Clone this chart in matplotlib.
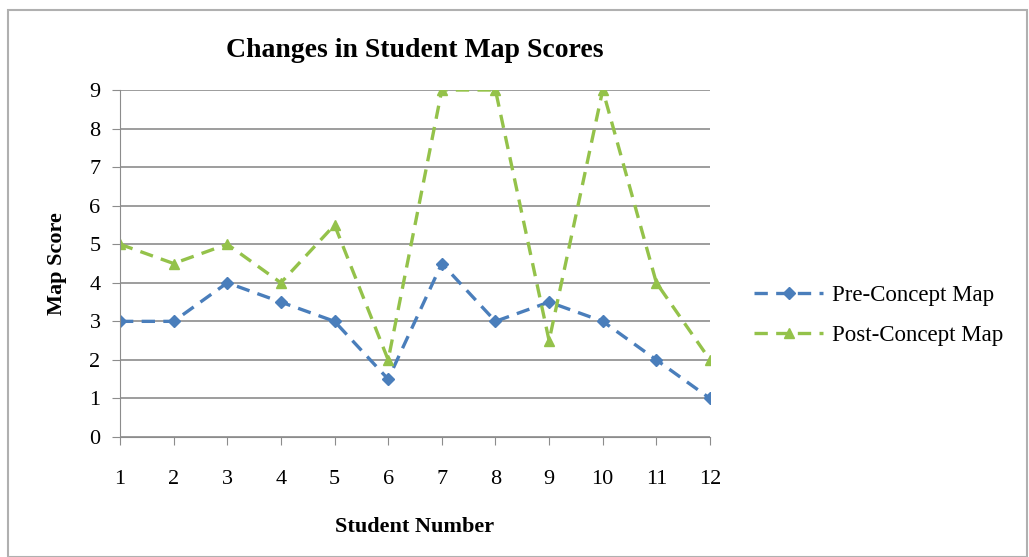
import matplotlib.pyplot as plt
from matplotlib.patches import Rectangle

students = list(range(1, 13))
pre_scores = [3, 3, 4, 3.5, 3, 1.5, 4.5, 3, 3.5, 3, 2, 1]
post_scores = [5, 4.5, 5, 4, 5.5, 2, 9, 9, 2.5, 9, 4, 2]

plt.rcParams['font.family'] = ['Liberation Serif', 'DejaVu Serif']

fig = plt.figure(figsize=(10.29, 5.57), dpi=100)
fig.patches.append(Rectangle((0.008, 0.0), 0.99, 0.982, transform=fig.transFigure,
                             fill=False, edgecolor='#b0b0b0', linewidth=1.5))
ax = fig.add_axes([0.1166, 0.2154, 0.5734, 0.623])

ax.plot(students, pre_scores, linestyle='--', color='#4a7ebb', linewidth=2.4,
        marker='D', markersize=6, label='Pre-Concept Map', dashes=(4, 2.5))
ax.plot(students, post_scores, linestyle='--', color='#94c24a', linewidth=2.4,
        marker='^', markersize=7, label='Post-Concept Map', dashes=(4, 2.5))

ax.set_xlim(1, 12)
ax.set_ylim(0, 9)
ax.set_xticks(students)
ax.set_yticks(range(0, 10))
ax.grid(axis='y', color='#8c8c8c', linewidth=1.2)
ax.set_axisbelow(True)
for s in ['top', 'right']:
    ax.spines[s].set_visible(False)
ax.spines['left'].set_color('#8c8c8c')
ax.spines['bottom'].set_color('#8c8c8c')
ax.tick_params(axis='both', colors='#8c8c8c', labelcolor='black', labelsize=16, length=6)
ax.tick_params(axis='x', pad=18)
ax.tick_params(axis='y', pad=8)

ax.set_title('Changes in Student Map Scores', fontsize=20, fontweight='bold', pad=24)
ax.set_xlabel('Student Number', fontsize=16, fontweight='bold', labelpad=20)
ax.set_ylabel('Map Score', fontsize=16, fontweight='bold', labelpad=16)

ax.legend(loc='center left', bbox_to_anchor=(1.04, 0.35), frameon=False,
          fontsize=16.5, handlelength=3, handletextpad=0.4, labelspacing=0.8)

fig.savefig('out.png', dpi=100)
